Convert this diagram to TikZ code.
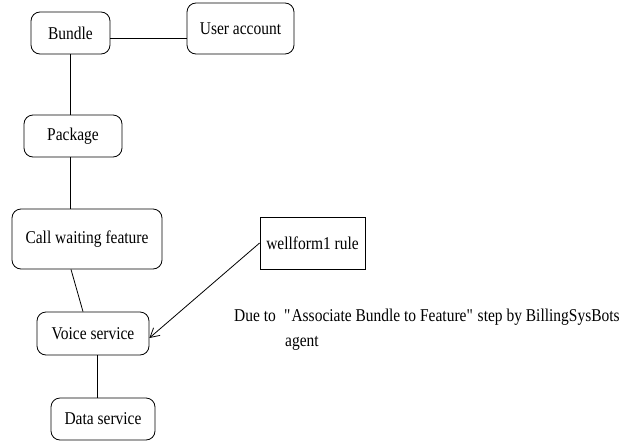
\documentclass[tikz,border=0pt]{standalone}
\usepackage{fontspec}
\setmainfont{Liberation Serif}[FakeStretch=0.86]
\usetikzlibrary{arrows.meta}
\begin{document}
\begin{tikzpicture}[x=1pt,y=-1pt,
  every node/.style={font=\fontsize{18}{25}\selectfont, inner sep=0pt},
  rbox/.style={draw, rounded corners=9pt, line width=0.8pt},
  sbox/.style={draw, line width=0.8pt},
  link/.style={line width=0.8pt}]
\useasboundingbox (0,0) rectangle (626,442);
\node[rbox, minimum width=79pt, minimum height=42pt] (bundle) at (70.5,33) {Bundle};
\node[rbox, minimum width=107pt, minimum height=51pt] (user) at (240.5,28.5) {User account};
\node[rbox, minimum width=98pt, minimum height=42pt] (package) at (73,136) {Package};
\node[rbox, minimum width=150pt, minimum height=60pt] (cwf) at (87,239) {Call waiting feature};
\node[sbox, minimum width=105pt, minimum height=52pt] (rule) at (312.5,243) {wellform1 rule};
\node[rbox, minimum width=112pt, minimum height=43pt] (voice) at (93,333.5) {Voice service};
\node[rbox, minimum width=104pt, minimum height=42pt] (data) at (103,419) {Data service};
\node[anchor=base west] (dueto) at (234,321) {Due to};
\node[anchor=base west] (why1) at (284,321) {\textquotedbl Associate Bundle to Feature\textquotedbl\ step by BillingSysBots};
\node[anchor=base west] (why2) at (285,346) {agent};
\draw[link] ([yshift=-5pt]bundle.east) -- ([yshift=-5pt]bundle.east -| user.west);
\draw[link] (bundle.south) -- (bundle.south |- package.north);
\draw[link] ([xshift=-3pt]package.south) -- ([xshift=-3pt]package.south |- cwf.north);
\draw[link] ([xshift=-16pt]cwf.south) -- ([xshift=-10pt]voice.north);
\draw[link] ([xshift=4pt]voice.south) -- ([xshift=4pt]voice.south |- data.north);
\draw[link, -{Straight Barb[length=9pt,width=10pt]}] (rule.west) -- ([yshift=-4.5pt]voice.east);
\end{tikzpicture}
\end{document}
